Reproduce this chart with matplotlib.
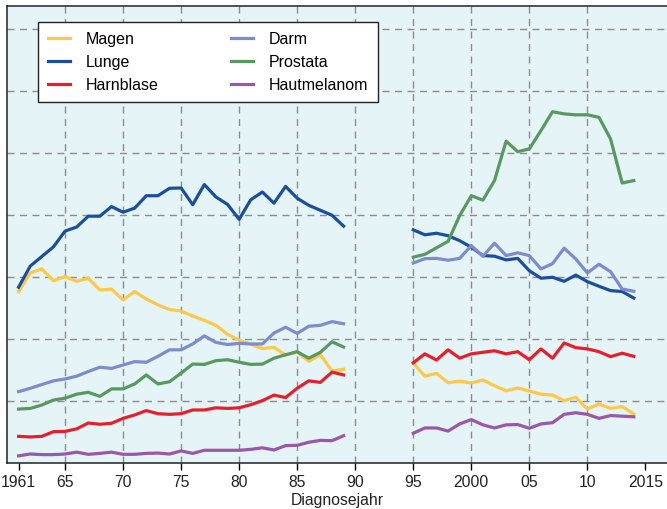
import matplotlib.pyplot as plt

plt.rcParams['font.family'] = ['Liberation Sans', 'DejaVu Sans']

years_a = list(range(1961, 1990))
years_b = list(range(1995, 2015))

# Werte je Lokalisation (1961-1989 und 1995-2014)
magen_a = [55.3, 61.3, 62.6, 58.8, 60.1, 58.6, 59.6, 55.8, 56.1, 52.6, 55.3, 52.9, 51.0, 49.5, 49.0,
           47.4, 46.0, 44.4, 41.5, 39.6, 38.3, 36.9, 37.3, 34.8, 35.8, 32.8, 34.9, 29.7, 30.2]
magen_b = [32.2, 28.0, 28.9, 25.9, 26.4, 25.8, 26.8, 24.9, 23.3, 24.2, 23.2, 22.2, 21.9, 20.1, 21.2,
           17.4, 19.0, 17.6, 18.2, 15.8]
lunge_a = [56.7, 63.5, 66.6, 69.7, 74.8, 76.1, 79.6, 79.6, 82.7, 80.9, 82.2, 86.2, 86.2, 88.6, 88.7,
           83.3, 89.8, 85.8, 83.4, 78.6, 84.9, 87.4, 83.8, 89.2, 85.4, 83.1, 81.5, 79.9, 76.4]
lunge_b = [75.2, 73.6, 74.1, 73.3, 71.7, 69.6, 66.9, 66.7, 65.5, 66.0, 62.0, 59.6, 59.9, 58.6, 60.6,
           58.5, 57.0, 55.6, 55.3, 53.2]
harnblase_a = [8.6, 8.4, 8.6, 10.1, 10.2, 11.0, 12.9, 12.5, 12.8, 14.4, 15.5, 16.9, 15.9, 15.7, 15.9,
               17.1, 17.1, 17.8, 17.6, 17.8, 18.8, 20.1, 21.9, 21.1, 24.1, 26.5, 26.0, 29.3, 28.4]
harnblase_b = [32.3, 35.2, 33.2, 36.5, 33.8, 35.2, 35.7, 36.2, 35.2, 35.9, 33.3, 36.8, 33.8, 38.7, 37.2,
               36.8, 35.9, 34.3, 35.4, 34.4]
darm_a = [23.0, 24.1, 25.3, 26.5, 27.1, 28.0, 29.5, 30.9, 30.5, 31.6, 32.7, 32.5, 34.4, 36.5, 36.5,
          38.4, 41.0, 38.9, 38.2, 38.6, 38.4, 38.4, 41.9, 43.8, 41.8, 44.1, 44.4, 45.6, 44.9]
darm_b = [64.5, 65.9, 66.0, 65.4, 66.0, 70.1, 66.7, 70.9, 66.9, 67.8, 66.9, 62.6, 64.3, 69.3, 65.8,
          61.3, 64.1, 61.7, 56.1, 55.4]
prostata_a = [17.4, 17.6, 18.7, 20.3, 20.9, 22.2, 22.8, 21.5, 23.9, 23.9, 25.5, 28.4, 25.5, 26.2, 29.0,
              31.9, 31.8, 33.0, 33.3, 32.5, 31.8, 31.9, 33.8, 34.9, 35.9, 33.8, 35.7, 39.1, 37.4]
prostata_b = [66.4, 67.3, 69.4, 71.5, 79.8, 86.2, 84.8, 91.1, 103.8, 100.4, 101.3, 107.2, 113.3, 112.6,
              112.3, 112.3, 111.5, 104.5, 90.3, 91.1]
melanom_a = [2.3, 2.9, 2.7, 2.7, 2.9, 3.5, 2.8, 3.1, 3.5, 2.8, 2.8, 3.1, 3.2, 2.9, 3.9,
             3.1, 4.1, 4.1, 4.1, 4.1, 4.4, 4.9, 4.2, 5.6, 5.7, 6.7, 7.3, 7.2, 8.8]
melanom_b = [9.6, 11.3, 11.3, 10.3, 12.6, 14.0, 12.3, 11.3, 12.3, 12.4, 11.2, 12.6, 13.0, 15.7, 16.2,
             15.7, 14.4, 15.3, 15.1, 14.9]

tick_years = [1961, 1965, 1970, 1975, 1980, 1985, 1990, 1995, 2000, 2005, 2010, 2015]
tick_labels = ['1961', '65', '70', '75', '80', '85', '90', '95', '2000', '05', '10', '2015']
grid_years = [1965, 1970, 1975, 1980, 1985, 1990, 1995, 2000, 2005, 2010]
grid_values = [20, 40, 60, 80, 100, 120, 140]

fig = plt.figure(figsize=(6.67, 5.10), dpi=100)
ax = fig.add_axes([0.0105, 0.0902, 0.9895, 0.8961])
ax.set_facecolor('#e5f4f7')

for gx in grid_years:
    ax.axvline(gx, color='#8c8c8c', lw=1, ls=(0, (5, 4)), zorder=1)
for gy in grid_values:
    ax.axhline(gy, color='#8c8c8c', lw=1, ls=(0, (5, 4)), zorder=1)

series = [
    ('Magen', magen_a, magen_b, '#fec84a'),
    ('Lunge', lunge_a, lunge_b, '#1b4f9c'),
    ('Harnblase', harnblase_a, harnblase_b, '#e4202c'),
    ('Darm', darm_a, darm_b, '#7f8ccb'),
    ('Prostata', prostata_a, prostata_b, '#5a9862'),
    ('Hautmelanom', melanom_a, melanom_b, '#9b57a8'),
]
for name, a, b, col in series:
    ax.plot(years_a, a, color=col, lw=2.3, label=name, zorder=3)
    ax.plot(years_b, b, color=col, lw=2.3, zorder=3)

ax.set_xlim(1960, 2016.86)
ax.set_ylim(0, 147.4)
ax.set_xticks(tick_years)
ax.set_xticklabels(tick_labels, fontsize=11.3, color='#222222')
ax.set_yticks([])
ax.tick_params(axis='x', length=5, width=1, pad=3)
ax.spines['right'].set_visible(False)
for s in ['left', 'top', 'bottom']:
    ax.spines[s].set_linewidth(1.1)
    ax.spines[s].set_color('#222222')

ax.set_xlabel('Diagnosejahr', fontsize=11.3, color='#222222', labelpad=2)

leg = ax.legend(ncol=2, loc='upper left', bbox_to_anchor=(0.047, 0.9657), fontsize=11.5,
                frameon=True, fancybox=False, edgecolor='#222222', framealpha=1,
                handlelength=1.4, handletextpad=1.0, columnspacing=4.5, labelspacing=0.5,
                borderpad=0.6, borderaxespad=0)
leg.get_frame().set_linewidth(1.0)
leg.set_zorder(5)

plt.savefig('out.png', dpi=100)
